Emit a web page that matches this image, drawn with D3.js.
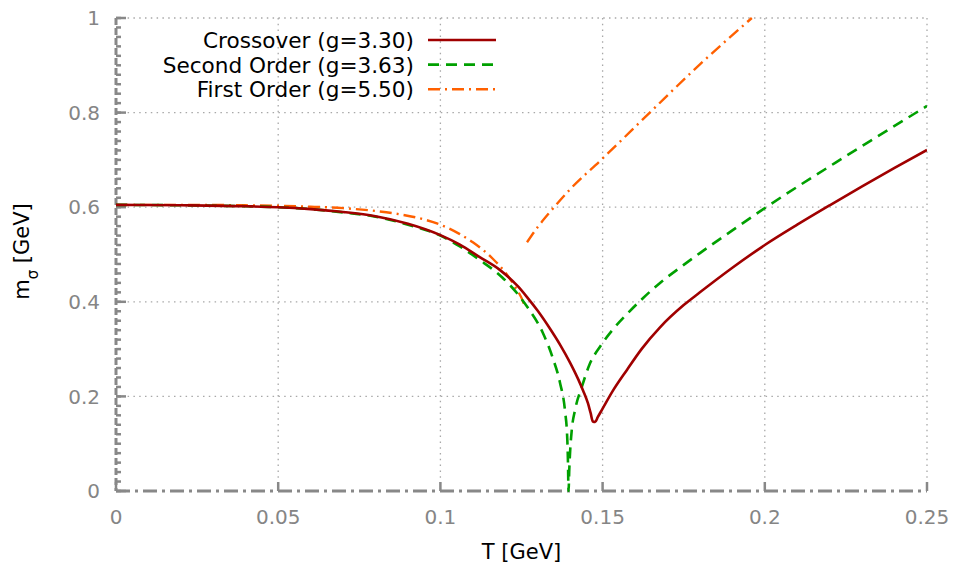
<!DOCTYPE html>
<html>
<head>
<meta charset="utf-8">
<script src="https://cdn.jsdelivr.net/npm/d3@7"></script>
<style>
  body { margin: 0; background: #fff; }
  text { font-family: "DejaVu Sans", sans-serif; }
</style>
</head>
<body>
<div id="chart"></div>
<script>
// crossover (g=3.30)
const crossT = [0, 0.02, 0.04, 0.05, 0.06, 0.07, 0.08, 0.09, 0.1, 0.106, 0.112, 0.1184, 0.124, 0.1267, 0.13, 0.1338, 0.137, 0.14, 0.1425, 0.144, 0.1455, 0.1463, 0.147, 0.1477, 0.1485, 0.15, 0.153, 0.1575, 0.162, 0.1677, 0.175, 0.18, 0.19, 0.2, 0.21, 0.22, 0.23, 0.24, 0.25];
const crossM = [0.605, 0.604, 0.602, 0.600, 0.596, 0.590, 0.581, 0.565, 0.541, 0.521, 0.495, 0.467, 0.432, 0.410, 0.381, 0.343, 0.308, 0.271, 0.236, 0.212, 0.185, 0.165, 0.147, 0.146, 0.156, 0.174, 0.210, 0.256, 0.300, 0.346, 0.393, 0.420, 0.472, 0.520, 0.563, 0.604, 0.644, 0.683, 0.721];

// second order (g=3.63)
const secondT = [0, 0.02, 0.04, 0.05, 0.06, 0.07, 0.08, 0.09, 0.1, 0.106, 0.112, 0.119, 0.124, 0.1267, 0.1316, 0.1347, 0.1369, 0.1384, 0.1391, 0.13935, 0.13948, 0.13952, 0.1397, 0.1399, 0.1405, 0.1415, 0.1436, 0.146, 0.1492, 0.153, 0.1575, 0.1625, 0.1677, 0.175, 0.18, 0.19, 0.2, 0.225, 0.25];
const secondM = [0.605, 0.604, 0.602, 0.600, 0.596, 0.589, 0.580, 0.563, 0.540, 0.517, 0.489, 0.452, 0.415, 0.390, 0.334, 0.280, 0.228, 0.170, 0.112, 0.052, 0, 0, 0.040, 0.072, 0.129, 0.171, 0.220, 0.268, 0.305, 0.340, 0.374, 0.408, 0.440, 0.478, 0.503, 0.551, 0.598, 0.708, 0.814];

// first order (g=5.50), low and high branches
const firstLowT = [0, 0.02, 0.04, 0.05, 0.06, 0.07, 0.08, 0.0875, 0.095, 0.1, 0.106, 0.11, 0.1163, 0.12, 0.123, 0.1255, 0.1262];
const firstLowM = [0.605, 0.605, 0.604, 0.603, 0.601, 0.598, 0.592, 0.585, 0.574, 0.563, 0.543, 0.526, 0.490, 0.462, 0.432, 0.400, 0.386];
const firstHighT = [0.1267, 0.13, 0.1338, 0.14, 0.15, 0.165, 0.18, 0.196];
const firstHighM = [0.526, 0.558, 0.590, 0.638, 0.703, 0.803, 0.902, 1.0];

const xTicks = [0, 0.05, 0.1, 0.15, 0.2, 0.25];
const yTicks = [0, 0.2, 0.4, 0.6, 0.8, 1];
const legendNames = ["Crossover (g=3.30)", "Second Order (g=3.63)", "First Order (g=5.50)"];

const W = 956, H = 565;
const margin = { top: 18, right: 29, bottom: 74, left: 116 };
const width = W - margin.left - margin.right,
      height = H - margin.top - margin.bottom;

const svg = d3.select("#chart").append("svg")
    .attr("width", W)
    .attr("height", H);

const g = svg.append("g")
    .attr("transform", `translate(${margin.left},${margin.top})`);

const x = d3.scaleLinear().domain([0, 0.25]).range([0, width]);
const y = d3.scaleLinear().domain([0, 1]).range([height, 0]);

const gridColor = "#a8a8a8";
const axisColor = "#888";

// dotted grid (also top and right border)
g.selectAll(".vgrid").data(xTicks.slice(1)).enter().append("line")
    .attr("x1", d => x(d)).attr("x2", d => x(d))
    .attr("y1", 0).attr("y2", height)
    .attr("stroke", gridColor).attr("stroke-width", 1.3)
    .attr("stroke-dasharray", "1.5,4.3");
g.selectAll(".hgrid").data(yTicks.slice(1)).enter().append("line")
    .attr("x1", 0).attr("x2", width)
    .attr("y1", d => y(d)).attr("y2", d => y(d))
    .attr("stroke", gridColor).attr("stroke-width", 1.3)
    .attr("stroke-dasharray", "1.5,4.3");

// left axis: dashed gray line with major and minor ticks
g.append("line")
    .attr("x1", 0).attr("x2", 0).attr("y1", 0).attr("y2", height)
    .attr("stroke", axisColor).attr("stroke-width", 3)
    .attr("stroke-dasharray", "7,3");
const minorY = d3.range(0, 51).map(i => i * 0.02);
g.selectAll(".ymin").data(minorY).enter().append("line")
    .attr("x1", 0).attr("x2", 5)
    .attr("y1", d => y(d)).attr("y2", d => y(d))
    .attr("stroke", axisColor).attr("stroke-width", 2.5);
g.selectAll(".ymaj").data(yTicks).enter().append("line")
    .attr("x1", 0).attr("x2", 10)
    .attr("y1", d => y(d)).attr("y2", d => y(d))
    .attr("stroke", axisColor).attr("stroke-width", 2.5);

// bottom axis: dash-dot gray line with ticks
g.append("line")
    .attr("x1", 0).attr("x2", width).attr("y1", height).attr("y2", height)
    .attr("stroke", axisColor).attr("stroke-width", 3)
    .attr("stroke-dasharray", "14,5,3,5");
g.selectAll(".xmaj").data(xTicks).enter().append("line")
    .attr("x1", d => x(d)).attr("x2", d => x(d))
    .attr("y1", height).attr("y2", height - 9)
    .attr("stroke", axisColor).attr("stroke-width", 2.5);

// tick labels
g.selectAll(".ylab").data(yTicks).enter().append("text")
    .attr("x", -16).attr("y", d => y(d)).attr("dy", "0.36em")
    .attr("text-anchor", "end")
    .attr("fill", "#858585").style("font-size", "20px")
    .text(d => d === 0 ? "0" : d3.format("~g")(d));
g.selectAll(".xlab").data(xTicks).enter().append("text")
    .attr("x", d => x(d)).attr("y", height + 33)
    .attr("text-anchor", "middle")
    .attr("fill", "#858585").style("font-size", "20px")
    .text(d => d3.format("~g")(d));

// axis titles
g.append("text")
    .attr("x", width / 2).attr("y", height + 68)
    .attr("text-anchor", "middle")
    .style("font-size", "21px")
    .text("T [GeV]");
const yl = svg.append("text")
    .attr("transform", `translate(29,${margin.top + height / 2 - 3}) rotate(-90)`)
    .attr("text-anchor", "middle")
    .style("font-size", "21px");
yl.append("tspan").text("m");
yl.append("tspan").attr("baseline-shift", "sub").style("font-size", "15px").text("σ");
yl.append("tspan").text(" [GeV]");

// curves
const line = d3.line()
    .x(d => x(d[0]))
    .y(d => y(d[1]))
    .curve(d3.curveMonotoneX);

svg.append("clipPath").attr("id", "clip")
    .append("rect").attr("width", width).attr("height", height + 2).attr("y", -1);
const plot = g.append("g").attr("clip-path", "url(#clip)");

const series = [
    { T: firstLowT, M: firstLowM, color: "#ff6000", dash: "12,5,2,5", w: 2.4 },
    { T: firstHighT, M: firstHighM, color: "#ff6000", dash: "12,5,2,5", w: 2.4 },
    { T: secondT, M: secondM, color: "#00a000", dash: "11,7", w: 2.6 },
    { T: crossT, M: crossM, color: "#a00000", dash: null, w: 2.6 }
];
series.forEach(s => {
    plot.append("path")
        .datum(d3.zip(s.T, s.M))
        .attr("fill", "none")
        .attr("stroke", s.color)
        .attr("stroke-width", s.w)
        .attr("stroke-dasharray", s.dash)
        .attr("d", line);
});

// legend
const legendData = [
    { name: legendNames[0], color: "#a00000", dash: null },
    { name: legendNames[1], color: "#00a000", dash: "11,7" },
    { name: legendNames[2], color: "#ff6000", dash: "12,5,2,5" }
];
const legend = svg.append("g");
legendData.forEach((d, i) => {
    const ly = 40 + i * 24.6;
    legend.append("text")
        .attr("x", 414).attr("y", ly + 8)
        .attr("text-anchor", "end")
        .style("font-size", "21.6px")
        .text(d.name);
    legend.append("line")
        .attr("x1", 428).attr("x2", 496)
        .attr("y1", ly).attr("y2", ly)
        .attr("stroke", d.color).attr("stroke-width", 2.6)
        .attr("stroke-dasharray", d.dash);
});
</script>
</body>
</html>
